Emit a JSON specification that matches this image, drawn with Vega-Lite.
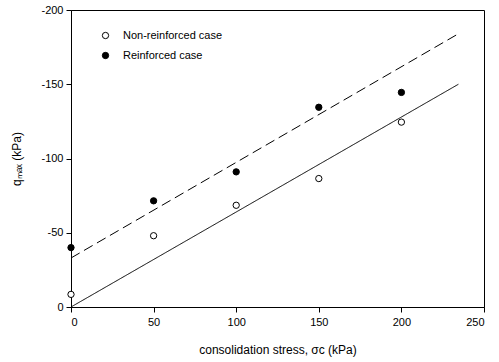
{
  "$schema": "https://vega.github.io/schema/vega-lite/v6.json",
  "width": 413,
  "height": 297,
  "autosize": {"type": "none"},
  "padding": {"left": 71, "top": 10, "right": 15, "bottom": 55},
  "background": "white",
  "config": {
    "font": "Liberation Sans",
    "view": {"stroke": "black", "strokeWidth": 1},
    "axis": {
      "grid": false,
      "domainColor": "black",
      "domainWidth": 1,
      "tickColor": "black",
      "tickSize": 5,
      "tickWidth": 1,
      "labelFont": "Liberation Sans",
      "labelFontSize": 11,
      "labelColor": "black",
      "titleFont": "Liberation Sans",
      "titleFontSize": 12,
      "titleFontWeight": "normal",
      "titleColor": "black"
    }
  },
  "datasets": {
    "points": [
      {"stress": 0, "q": -8.5, "case": "Non-reinforced case"},
      {"stress": 50, "q": -48, "case": "Non-reinforced case"},
      {"stress": 100, "q": -68.5, "case": "Non-reinforced case"},
      {"stress": 150, "q": -86.5, "case": "Non-reinforced case"},
      {"stress": 200, "q": -124.5, "case": "Non-reinforced case"},
      {"stress": 0, "q": -40, "case": "Reinforced case"},
      {"stress": 50, "q": -71.5, "case": "Reinforced case"},
      {"stress": 100, "q": -91, "case": "Reinforced case"},
      {"stress": 150, "q": -134.5, "case": "Reinforced case"},
      {"stress": 200, "q": -144.5, "case": "Reinforced case"}
    ],
    "fits": [
      {"stress": 0, "q": 0, "fit": "Non-reinforced fit"},
      {"stress": 234.5, "q": -150, "fit": "Non-reinforced fit"},
      {"stress": 0, "q": -33, "fit": "Reinforced fit"},
      {"stress": 234.5, "q": -184, "fit": "Reinforced fit"}
    ]
  },
  "layer": [
    {
      "data": {"name": "fits"},
      "mark": {"type": "line", "color": "black", "strokeWidth": 1},
      "encoding": {
        "x": {"field": "stress", "type": "quantitative"},
        "y": {"field": "q", "type": "quantitative"},
        "detail": {"field": "fit"},
        "strokeDash": {
          "field": "fit",
          "type": "nominal",
          "scale": {"domain": ["Non-reinforced fit", "Reinforced fit"], "range": [[1, 0], [10, 5]]},
          "legend": null
        }
      }
    },
    {
      "data": {"name": "points"},
      "mark": {"type": "circle", "size": 40, "stroke": "black", "strokeWidth": 1, "opacity": 1},
      "encoding": {
        "x": {
          "field": "stress",
          "type": "quantitative",
          "scale": {"domain": [0, 250], "nice": false, "zero": false},
          "axis": {"values": [0, 50, 100, 150, 200, 250], "labelPadding": 4, "title": "consolidation stress, σc (kPa)", "titlePadding": 17}
        },
        "y": {
          "field": "q",
          "type": "quantitative",
          "scale": {"domain": [-200, 0], "reverse": true, "nice": false, "zero": false},
          "axis": {"values": [-200, -150, -100, -50, 0], "labelPadding": 3, "labelExpr": "toString(datum.value)", "title": "qₘₐₓ (kPa)", "titlePadding": 17}
        },
        "fill": {
          "field": "case",
          "type": "nominal",
          "scale": {"domain": ["Non-reinforced case", "Reinforced case"], "range": ["white", "black"]},
          "legend": {
            "title": null,
            "orient": "none",
            "legendX": 29,
            "legendY": 20,
            "padding": 0,
            "symbolType": "circle",
            "symbolSize": 40,
            "symbolStrokeColor": "black",
            "symbolStrokeWidth": 1,
            "labelFont": "Liberation Sans",
            "labelFontSize": 11,
            "labelColor": "black",
            "labelOffset": 12,
            "rowPadding": 8
          }
        }
      }
    }
  ]
}
